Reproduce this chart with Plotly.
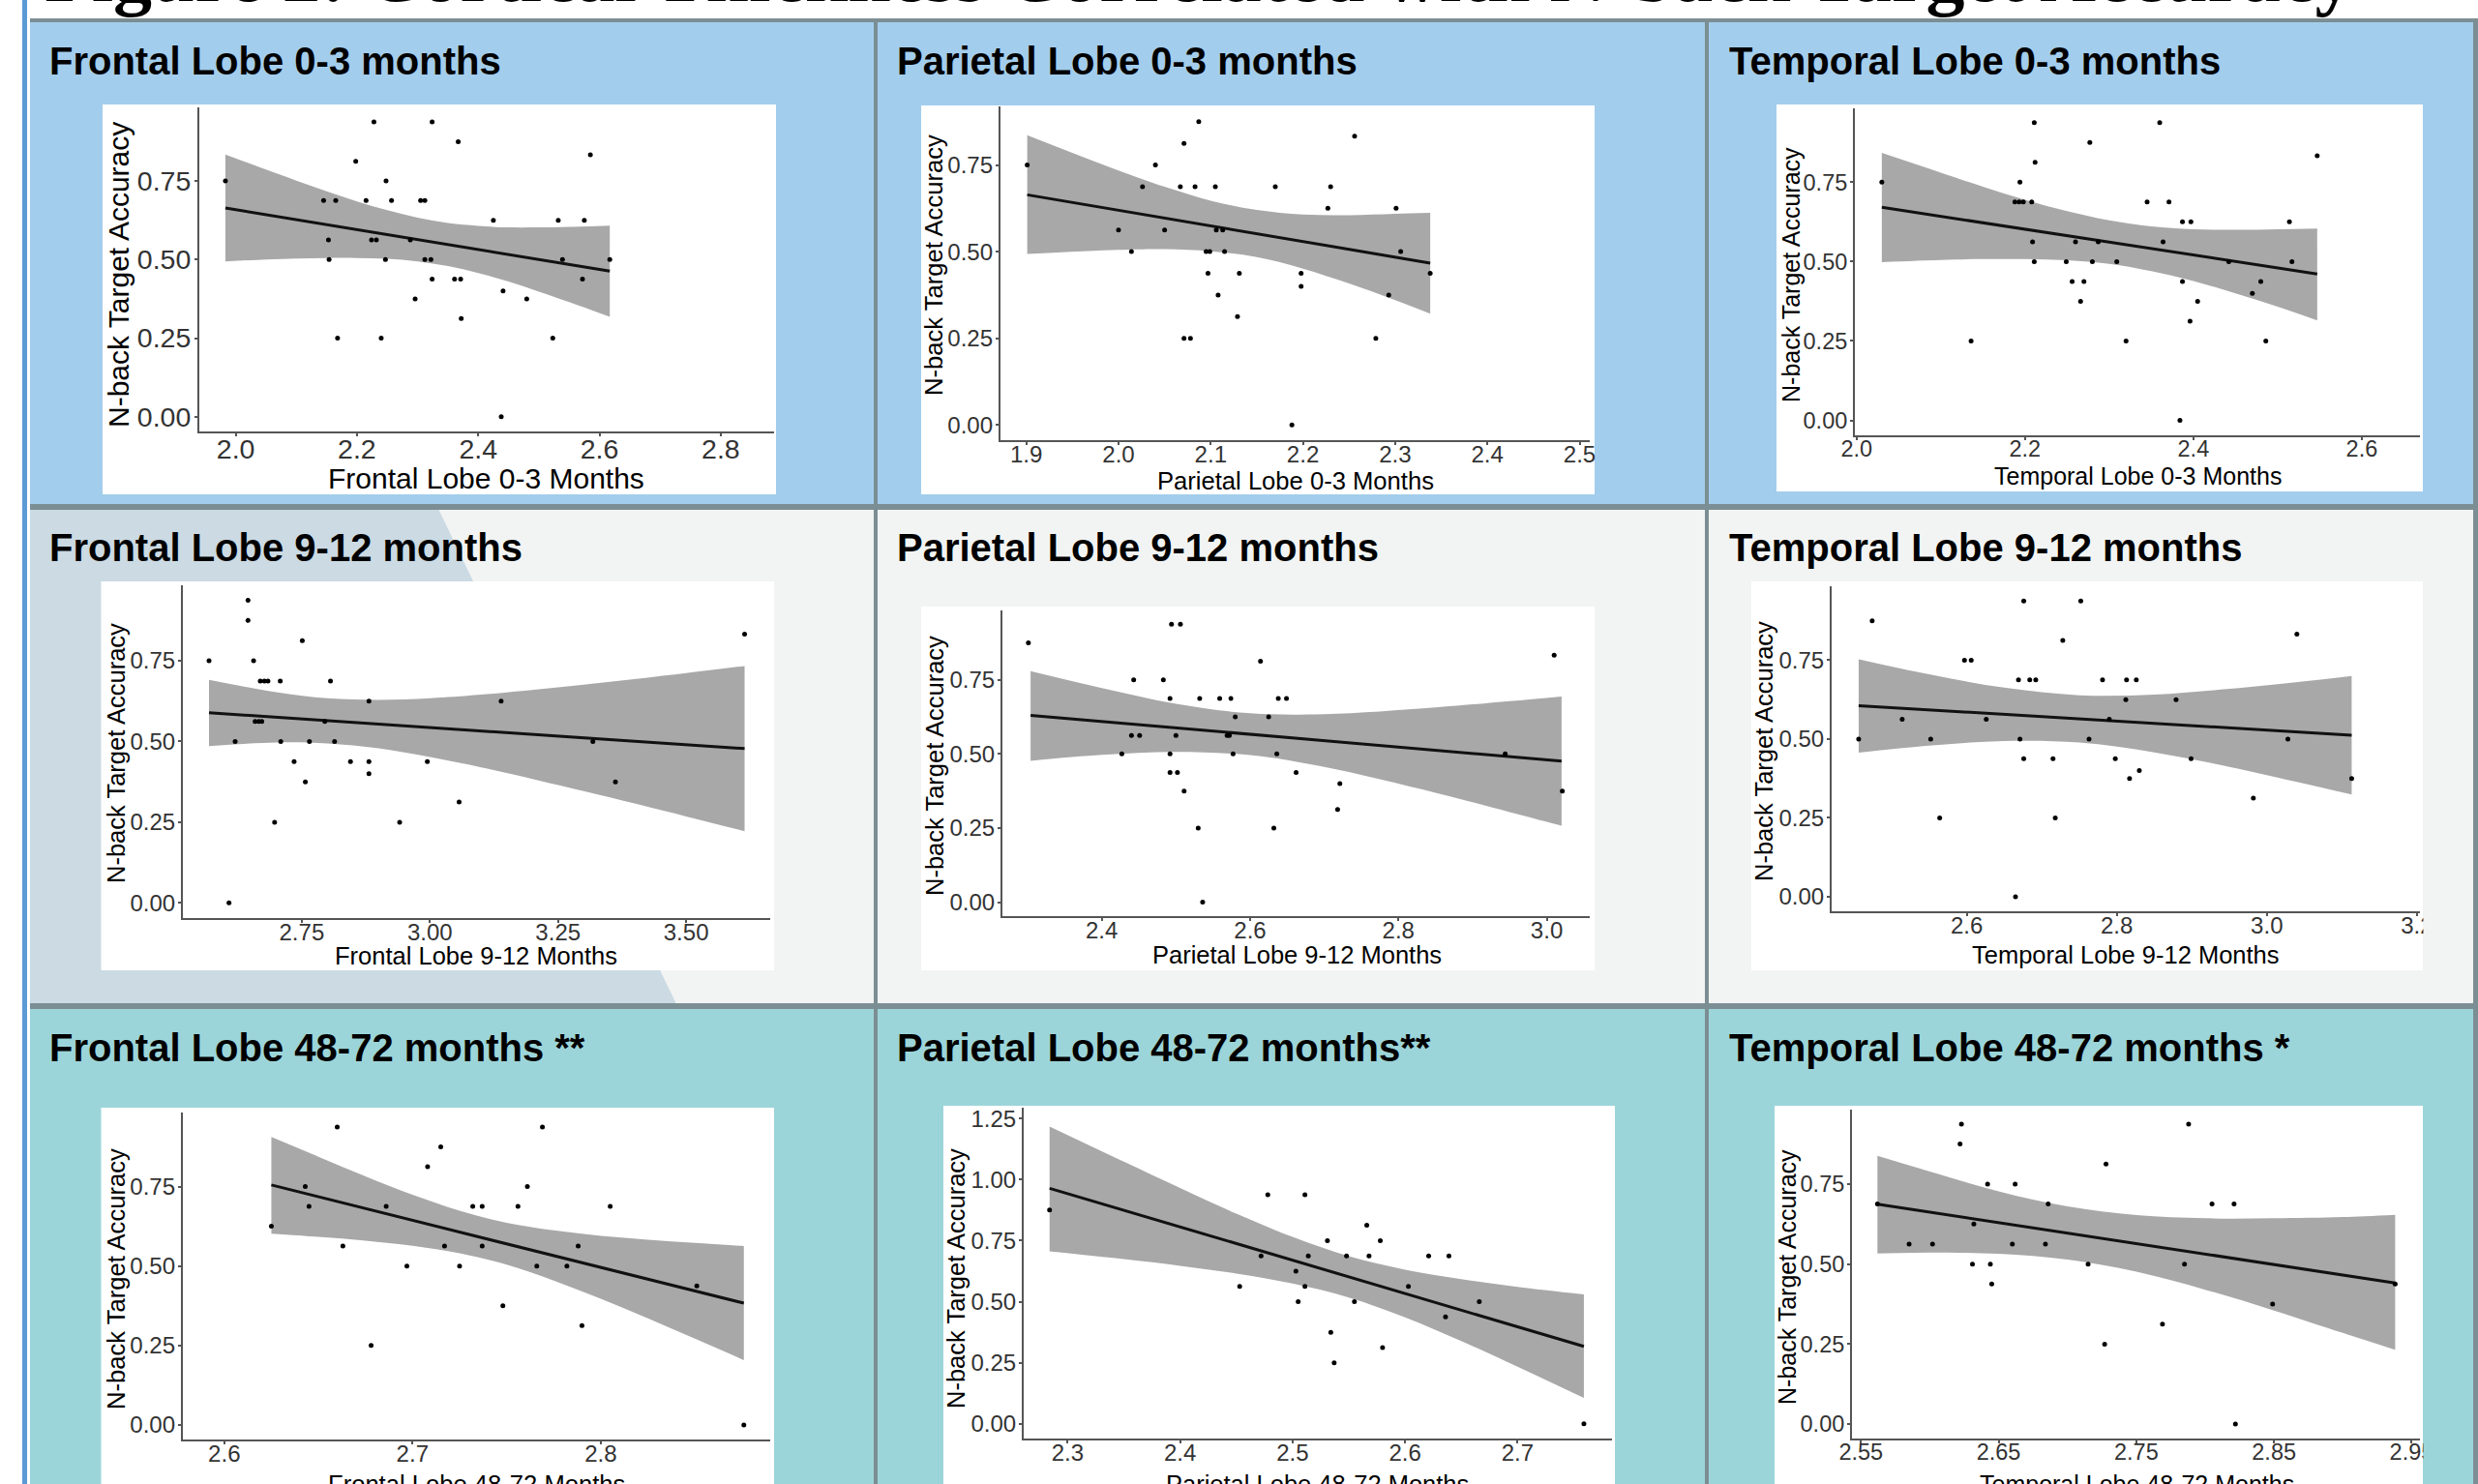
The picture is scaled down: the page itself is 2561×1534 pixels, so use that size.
import plotly.graph_objects as go

W, H = 2561, 1534

FIG_TITLE = "Figure 2: Cortical Thickness Correlated with N-back Target Accuracy"
Y_TITLE = "N-back Target Accuracy"

PANEL_TITLES = [
    "Frontal Lobe 0-3 months", "Parietal Lobe 0-3 months", "Temporal Lobe 0-3 months",
    "Frontal Lobe 9-12 months", "Parietal Lobe 9-12 months", "Temporal Lobe 9-12 months",
    "Frontal Lobe 48-72 months **", "Parietal Lobe 48-72 months**", "Temporal Lobe 48-72 months *",
]
X_TITLES = [
    "Frontal Lobe 0-3 Months", "Parietal Lobe 0-3 Months", "Temporal Lobe 0-3 Months",
    "Frontal Lobe 9-12 Months", "Parietal Lobe 9-12 Months", "Temporal Lobe 9-12 Months",
    "Frontal Lobe 48-72 Months", "Parietal Lobe 48-72 Months", "Temporal Lobe 48-72 Months",
]

Y_TICKS = [0.0, 0.25, 0.5, 0.75]
Y_TICK_LABELS = ["0.00", "0.25", "0.50", "0.75"]
Y_TICKS_P8 = [0.0, 0.25, 0.5, 0.75, 1.0, 1.25]
Y_TICK_LABELS_P8 = ["0.00", "0.25", "0.50", "0.75", "1.00", "1.25"]

X_TICKS = [
    [2.0, 2.2, 2.4, 2.6, 2.8],
    [1.9, 2.0, 2.1, 2.2, 2.3, 2.4, 2.5],
    [2.0, 2.2, 2.4, 2.6],
    [2.75, 3.0, 3.25, 3.5],
    [2.4, 2.6, 2.8, 3.0],
    [2.6, 2.8, 3.0, 3.2],
    [2.6, 2.7, 2.8],
    [2.3, 2.4, 2.5, 2.6, 2.7],
    [2.55, 2.65, 2.75, 2.85, 2.95],
]
X_TICK_LABELS = [
    ["2.0", "2.2", "2.4", "2.6", "2.8"],
    ["1.9", "2.0", "2.1", "2.2", "2.3", "2.4", "2.5"],
    ["2.0", "2.2", "2.4", "2.6"],
    ["2.75", "3.00", "3.25", "3.50"],
    ["2.4", "2.6", "2.8", "3.0"],
    ["2.6", "2.8", "3.0", "3.2"],
    ["2.6", "2.7", "2.8"],
    ["2.3", "2.4", "2.5", "2.6", "2.7"],
    ["2.55", "2.65", "2.75", "2.85", "2.95"],
]

# ---------------- Frontal 0-3 ----------------
frontal_0_3_x = [1.983, 2.228, 2.324, 2.367, 2.198, 2.585, 2.248, 2.145, 2.165, 2.215, 2.257, 2.305, 2.312,
                 2.425, 2.532, 2.575, 2.153, 2.224, 2.232, 2.288, 2.154, 2.247, 2.312, 2.322, 2.539, 2.617,
                 2.324, 2.361, 2.371, 2.572, 2.441, 2.296, 2.480, 2.372, 2.168, 2.240, 2.523, 2.438]
frontal_0_3_y = [0.75, 0.9375, 0.9375, 0.875, 0.8125, 0.833, 0.75, 0.6875, 0.6875, 0.6875, 0.6875, 0.6875, 0.6875,
                 0.625, 0.625, 0.625, 0.5625, 0.5625, 0.5625, 0.5625, 0.5, 0.5, 0.5, 0.5, 0.5, 0.5,
                 0.4375, 0.4375, 0.4375, 0.4375, 0.4, 0.375, 0.375, 0.3125, 0.25, 0.25, 0.25, 0.0]
frontal_0_3_fit_x = [1.983, 2.617]
frontal_0_3_fit_y = [0.664, 0.463]
frontal_0_3_band_x = [1.983, 2.05, 2.1, 2.15, 2.2, 2.25, 2.3, 2.35, 2.4, 2.45, 2.5, 2.55, 2.617]
frontal_0_3_band_hi = [0.834, 0.786, 0.751, 0.717, 0.685, 0.657, 0.633, 0.616, 0.607, 0.602, 0.602, 0.604, 0.608]
frontal_0_3_band_lo = [0.494, 0.500, 0.503, 0.505, 0.505, 0.502, 0.494, 0.479, 0.457, 0.430, 0.398, 0.365, 0.318]

# ---------------- Parietal 0-3 ----------------
parietal_0_3_x = [1.901, 2.087, 2.071, 2.256, 2.040, 2.026, 2.067, 2.083, 2.105, 2.170, 2.230, 2.227, 2.301,
                  2.000, 2.050, 2.106, 2.113, 2.014, 2.095, 2.099, 2.115, 2.306, 2.097, 2.131, 2.198, 2.338,
                  2.198, 2.108, 2.293, 2.129, 2.071, 2.078, 2.279, 2.188]
parietal_0_3_y = [0.75, 0.875, 0.8125, 0.833, 0.75, 0.6875, 0.6875, 0.6875, 0.6875, 0.6875, 0.6875, 0.625, 0.625,
                  0.5625, 0.5625, 0.5625, 0.5625, 0.5, 0.5, 0.5, 0.5, 0.5, 0.4375, 0.4375, 0.4375, 0.4375,
                  0.4, 0.375, 0.375, 0.3125, 0.25, 0.25, 0.25, 0.0]
parietal_0_3_fit_x = [1.901, 2.338]
parietal_0_3_fit_y = [0.664, 0.467]
parietal_0_3_band_x = [1.901, 2.0, 2.05, 2.1, 2.15, 2.2, 2.25, 2.3, 2.338]
parietal_0_3_band_hi = [0.836, 0.734, 0.687, 0.647, 0.620, 0.607, 0.605, 0.609, 0.612]
parietal_0_3_band_lo = [0.493, 0.505, 0.507, 0.501, 0.484, 0.451, 0.408, 0.360, 0.321]

# ---------------- Temporal 0-3 ----------------
temporal_0_3_x = [2.030, 2.211, 2.360, 2.277, 2.212, 2.547, 2.194, 2.188, 2.193, 2.198, 2.208, 2.345, 2.371,
                  2.387, 2.397, 2.514, 2.209, 2.260, 2.287, 2.364, 2.211, 2.249, 2.280, 2.309, 2.442, 2.517,
                  2.256, 2.270, 2.387, 2.480, 2.470, 2.266, 2.405, 2.396, 2.136, 2.320, 2.486, 2.384]
temporal_0_3_y = [0.75, 0.9375, 0.9375, 0.875, 0.8125, 0.833, 0.75, 0.6875, 0.6875, 0.6875, 0.6875, 0.6875, 0.6875,
                  0.625, 0.625, 0.625, 0.5625, 0.5625, 0.5625, 0.5625, 0.5, 0.5, 0.5, 0.5, 0.5, 0.5,
                  0.4375, 0.4375, 0.4375, 0.4375, 0.4, 0.375, 0.375, 0.3125, 0.25, 0.25, 0.25, 0.0]
temporal_0_3_fit_x = [2.030, 2.547]
temporal_0_3_fit_y = [0.671, 0.461]
temporal_0_3_band_x = [2.030, 2.1, 2.15, 2.2, 2.25, 2.3, 2.35, 2.4, 2.45, 2.5, 2.547]
temporal_0_3_band_hi = [0.842, 0.780, 0.736, 0.695, 0.659, 0.630, 0.611, 0.602, 0.600, 0.602, 0.604]
temporal_0_3_band_lo = [0.498, 0.505, 0.508, 0.508, 0.504, 0.493, 0.470, 0.439, 0.400, 0.358, 0.315]

# ---------------- Frontal 9-12 ----------------
frontal_9_12_x = [2.569, 2.645, 2.645, 2.751, 3.614, 2.656, 2.669, 2.677, 2.684, 2.708, 2.806, 2.881, 3.139,
                  2.659, 2.666, 2.672, 2.795, 2.620, 2.709, 2.765, 2.814, 3.318, 2.735, 2.845, 2.881, 2.995,
                  2.881, 2.757, 3.362, 3.057, 2.697, 2.941, 2.608]
frontal_9_12_y = [0.75, 0.9375, 0.875, 0.8125, 0.833, 0.75, 0.6875, 0.6875, 0.6875, 0.6875, 0.6875, 0.625, 0.625,
                  0.5625, 0.5625, 0.5625, 0.5625, 0.5, 0.5, 0.5, 0.5, 0.5, 0.4375, 0.4375, 0.4375, 0.4375,
                  0.4, 0.375, 0.375, 0.3125, 0.25, 0.25, 0.0]
frontal_9_12_fit_x = [2.569, 3.614]
frontal_9_12_fit_y = [0.589, 0.478]
frontal_9_12_band_x = [2.569, 2.7, 2.8, 2.9, 3.0, 3.1, 3.3, 3.5, 3.614]
frontal_9_12_band_hi = [0.691, 0.653, 0.634, 0.629, 0.634, 0.645, 0.676, 0.712, 0.734]
frontal_9_12_band_lo = [0.486, 0.497, 0.494, 0.479, 0.452, 0.420, 0.346, 0.268, 0.222]

# ---------------- Parietal 9-12 ----------------
parietal_9_12_x = [2.301, 2.494, 2.506, 2.614, 3.010, 2.443, 2.483, 2.492, 2.532, 2.559, 2.574, 2.638, 2.649,
                   2.580, 2.625, 2.440, 2.451, 2.500, 2.569, 2.572, 2.427, 2.492, 2.577, 2.636, 2.944,
                   2.492, 2.502, 2.662, 2.721, 2.511, 3.021, 2.718, 2.530, 2.632, 2.536]
parietal_9_12_y = [0.875, 0.9375, 0.9375, 0.8125, 0.833, 0.75, 0.75, 0.6875, 0.6875, 0.6875, 0.6875, 0.6875, 0.6875,
                   0.625, 0.625, 0.5625, 0.5625, 0.5625, 0.5625, 0.5625, 0.5, 0.5, 0.5, 0.5, 0.5,
                   0.4375, 0.4375, 0.4375, 0.4, 0.375, 0.375, 0.3125, 0.25, 0.25, 0.0]
parietal_9_12_fit_x = [2.304, 3.020]
parietal_9_12_fit_y = [0.630, 0.476]
parietal_9_12_band_x = [2.304, 2.4, 2.5, 2.6, 2.7, 2.85, 2.95, 3.020]
parietal_9_12_band_hi = [0.779, 0.722, 0.669, 0.637, 0.634, 0.657, 0.678, 0.694]
parietal_9_12_band_lo = [0.477, 0.497, 0.507, 0.496, 0.456, 0.369, 0.304, 0.258]

# ---------------- Temporal 9-12 ----------------
temporal_9_12_x = [2.456, 2.474, 2.676, 2.752, 2.728, 3.040, 2.597, 2.606, 2.669, 2.684, 2.692, 2.781, 2.813, 2.826,
                   2.812, 2.879, 2.514, 2.626, 2.790, 2.552, 2.671, 2.763, 3.028, 2.676, 2.715, 2.798, 2.899,
                   2.830, 2.817, 3.113, 2.982, 2.564, 2.718, 2.665]
temporal_9_12_y = [0.5, 0.875, 0.9375, 0.9375, 0.8125, 0.833, 0.75, 0.75, 0.6875, 0.6875, 0.6875, 0.6875, 0.6875, 0.6875,
                   0.625, 0.625, 0.5625, 0.5625, 0.5625, 0.5, 0.5, 0.5, 0.5, 0.4375, 0.4375, 0.4375, 0.4375,
                   0.4, 0.375, 0.375, 0.3125, 0.25, 0.25, 0.0]
temporal_9_12_fit_x = [2.456, 3.113]
temporal_9_12_fit_y = [0.606, 0.512]
temporal_9_12_band_x = [2.456, 2.55, 2.65, 2.75, 2.85, 2.95, 3.05, 3.113]
temporal_9_12_band_hi = [0.753, 0.705, 0.663, 0.639, 0.641, 0.659, 0.683, 0.700]
temporal_9_12_band_lo = [0.457, 0.479, 0.494, 0.489, 0.458, 0.412, 0.359, 0.324]

# ---------------- Frontal 48-72 ----------------
frontal_48_72_x = [2.660, 2.769, 2.715, 2.708, 2.643, 2.761, 2.645, 2.686, 2.732, 2.737, 2.756, 2.805, 2.625,
                   2.663, 2.717, 2.737, 2.788, 2.697, 2.725, 2.766, 2.782, 2.851, 2.748, 2.790, 2.678, 2.876]
frontal_48_72_y = [0.9375, 0.9375, 0.875, 0.8125, 0.75, 0.75, 0.6875, 0.6875, 0.6875, 0.6875, 0.6875, 0.6875, 0.625,
                   0.5625, 0.5625, 0.5625, 0.5625, 0.5, 0.5, 0.5, 0.5, 0.4375, 0.375, 0.3125, 0.25, 0.0]
frontal_48_72_fit_x = [2.625, 2.876]
frontal_48_72_fit_y = [0.755, 0.383]
frontal_48_72_band_x = [2.625, 2.65, 2.675, 2.70, 2.725, 2.75, 2.775, 2.80, 2.825, 2.85, 2.876]
frontal_48_72_band_hi = [0.906, 0.844, 0.782, 0.724, 0.674, 0.636, 0.612, 0.595, 0.583, 0.573, 0.563]
frontal_48_72_band_lo = [0.602, 0.592, 0.580, 0.564, 0.540, 0.504, 0.454, 0.397, 0.335, 0.271, 0.204]

# ---------------- Parietal 48-72 ----------------
parietal_48_72_x = [2.284, 2.478, 2.511, 2.566, 2.531, 2.578, 2.472, 2.514, 2.548, 2.568, 2.621, 2.639,
                    2.503, 2.453, 2.511, 2.603, 2.505, 2.555, 2.666, 2.636, 2.534, 2.580, 2.537, 2.759]
parietal_48_72_y = [0.875, 0.9375, 0.9375, 0.8125, 0.75, 0.75, 0.6875, 0.6875, 0.6875, 0.6875, 0.6875, 0.6875,
                    0.625, 0.5625, 0.5625, 0.5625, 0.5, 0.5, 0.5, 0.4375, 0.375, 0.3125, 0.25, 0.0]
parietal_48_72_fit_x = [2.284, 2.759]
parietal_48_72_fit_y = [0.964, 0.317]
parietal_48_72_band_x = [2.284, 2.35, 2.40, 2.45, 2.50, 2.55, 2.60, 2.65, 2.70, 2.759]
parietal_48_72_band_hi = [1.217, 1.073, 0.965, 0.860, 0.765, 0.686, 0.631, 0.592, 0.561, 0.530]
parietal_48_72_band_lo = [0.706, 0.674, 0.647, 0.615, 0.574, 0.517, 0.436, 0.339, 0.234, 0.106]

# ---------------- Temporal 48-72 ----------------
temporal_48_72_x = [2.623, 2.788, 2.622, 2.728, 2.642, 2.662, 2.562, 2.686, 2.805, 2.821, 2.632, 2.585, 2.602,
                    2.660, 2.684, 2.631, 2.644, 2.715, 2.785, 2.645, 2.938, 2.849, 2.769, 2.727, 2.822]
temporal_48_72_y = [0.9375, 0.9375, 0.875, 0.8125, 0.75, 0.75, 0.6875, 0.6875, 0.6875, 0.6875, 0.625, 0.5625, 0.5625,
                    0.5625, 0.5625, 0.5, 0.5, 0.5, 0.5, 0.4375, 0.4375, 0.375, 0.3125, 0.25, 0.0]
temporal_48_72_fit_x = [2.562, 2.938]
temporal_48_72_fit_y = [0.687, 0.441]
temporal_48_72_band_x = [2.562, 2.6, 2.65, 2.7, 2.75, 2.8, 2.85, 2.9, 2.938]
temporal_48_72_band_hi = [0.838, 0.789, 0.727, 0.680, 0.653, 0.643, 0.643, 0.647, 0.654]
temporal_48_72_band_lo = [0.533, 0.536, 0.532, 0.514, 0.476, 0.420, 0.355, 0.285, 0.232]

SERIES = [
    (frontal_0_3_x, frontal_0_3_y, frontal_0_3_fit_x, frontal_0_3_fit_y, frontal_0_3_band_x, frontal_0_3_band_hi, frontal_0_3_band_lo),
    (parietal_0_3_x, parietal_0_3_y, parietal_0_3_fit_x, parietal_0_3_fit_y, parietal_0_3_band_x, parietal_0_3_band_hi, parietal_0_3_band_lo),
    (temporal_0_3_x, temporal_0_3_y, temporal_0_3_fit_x, temporal_0_3_fit_y, temporal_0_3_band_x, temporal_0_3_band_hi, temporal_0_3_band_lo),
    (frontal_9_12_x, frontal_9_12_y, frontal_9_12_fit_x, frontal_9_12_fit_y, frontal_9_12_band_x, frontal_9_12_band_hi, frontal_9_12_band_lo),
    (parietal_9_12_x, parietal_9_12_y, parietal_9_12_fit_x, parietal_9_12_fit_y, parietal_9_12_band_x, parietal_9_12_band_hi, parietal_9_12_band_lo),
    (temporal_9_12_x, temporal_9_12_y, temporal_9_12_fit_x, temporal_9_12_fit_y, temporal_9_12_band_x, temporal_9_12_band_hi, temporal_9_12_band_lo),
    (frontal_48_72_x, frontal_48_72_y, frontal_48_72_fit_x, frontal_48_72_fit_y, frontal_48_72_band_x, frontal_48_72_band_hi, frontal_48_72_band_lo),
    (parietal_48_72_x, parietal_48_72_y, parietal_48_72_fit_x, parietal_48_72_fit_y, parietal_48_72_band_x, parietal_48_72_band_hi, parietal_48_72_band_lo),
    (temporal_48_72_x, temporal_48_72_y, temporal_48_72_fit_x, temporal_48_72_fit_y, temporal_48_72_band_x, temporal_48_72_band_hi, temporal_48_72_band_lo),
]

# ---------------- layout geometry (pixels) ----------------
PLOT_BOX = [
    (206, 800, 111, 446), (1034, 1643, 110, 455), (1917, 2501, 111.5, 450),
    (189, 796, 605, 949), (1036, 1643, 631, 947), (1893, 2501, 605.5, 942),
    (189, 796, 1150, 1488), (1058, 1666, 1145, 1487), (1914, 2501, 1147, 1487),
]
X_RANGES = [(1.94, 2.888), (1.872, 2.511), (1.998, 2.669), (2.518, 3.664), (2.266, 3.058),
            (2.42, 3.204), (2.578, 2.89), (2.261, 2.784), (2.5435, 2.956)]
Y_RANGES = [(-0.047, 0.984), (-0.044, 0.919), (-0.047, 0.984), (-0.047, 0.984), (-0.047, 0.984),
            (-0.046, 0.986), (-0.046, 0.983), (-0.06, 1.294), (-0.045, 0.9825)]
FONT_SIZES = [30, 25.6, 25, 25.5, 25.5, 25.5, 25.6, 25.5, 25]
WHITE_BOX = [
    (106, 802, 108, 511), (952, 1648, 109, 511), (1836, 2504, 108, 508),
    (104.5, 800, 601, 1003), (952, 1648, 627, 1003), (1810, 2504, 601, 1003),
    (104.5, 800, 1145, H), (975, 1669, 1143, H), (1834, 2504, 1143, H),
]
X_TITLE_POS = [(503, 495), (1339, 497), (2209, 492), (492, 988), (1340, 987), (2197, 987),
               (492, 1534), (1361, 1534), (2208, 1534)]
Y_TITLE_POS = [(123, 284), (965, 274), (1851, 284), (120, 779), (966, 792), (1823, 777),
               (120, 1322), (988, 1322), (1847, 1320)]
TITLE_X = [49, 925, 1785]
TITLE_Y = [63, 566, 1083]

ROW1 = "#a3cdec"
ROW2 = "#f2f4f3"
ROW2_DIAG = "#cbdae3"
ROW3 = "#9cd5d9"
BORDER = "#7b8e93"
BLUE = "#5b9bd5"
BAND = "#a8a8a8"
AXIS_COL = "#555555"
TICK_COL = "#333333"
FONT = "Liberation Sans, Arial, sans-serif"


def fx(p):
    return p / W


def fy(p):
    return 1 - p / H


shapes = []


def rect(x0, y0, x1, y1, color, layer="below"):
    shapes.append(dict(type="rect", xref="paper", yref="paper",
                       x0=fx(x0), x1=fx(x1), y0=fy(y1), y1=fy(y0),
                       fillcolor=color, line=dict(width=0), layer=layer))


# backgrounds
rect(31, 21, W, 524, ROW1)
rect(31, 524, W, 1040, ROW2)
shapes.append(dict(type="path", xref="paper", yref="paper", layer="below",
                   path=f"M {fx(31)},{fy(526)} L {fx(453)},{fy(526)} L {fx(700)},{fy(1040)} L {fx(31)},{fy(1040)} Z",
                   fillcolor=ROW2_DIAG, line=dict(width=0)))
rect(31, 1040, W, H, ROW3)
rect(23, 0, 28, H, BLUE)
# borders
rect(31, 19, W, 23, BORDER)
rect(31, 521, W, 527, BORDER)
rect(31, 1037, W, 1043, BORDER)
rect(903, 21, 907, H, BORDER)
rect(1762, 21, 1766, H, BORDER)
rect(2556, 21, 2561, H, BORDER)
# white boxes for each chart image
for (x0, x1, y0, y1) in WHITE_BOX:
    rect(x0, y0, x1, y1, "#ffffff")
# clip tick labels that overflow the white boxes (as in the source images)
rect(1648.5, 452, 1690, 492, ROW1, layer="above")
rect(2504.5, 943, 2550, 985, ROW2, layer="above")
rect(2504.5, 1488, 2550, 1530, ROW3, layer="above")

fig = go.Figure()
layout = dict()
annotations = []

for i in range(9):
    px_, py_, fxs, fys, bx, bhi, blo = SERIES[i]
    xn = "x" if i == 0 else f"x{i+1}"
    yn = "y" if i == 0 else f"y{i+1}"
    fs = FONT_SIZES[i]
    tfs = fs - 1.5
    # confidence band
    fig.add_trace(go.Scatter(x=bx, y=blo, mode="lines", line=dict(width=0, shape="spline", color=BAND),
                             xaxis=xn, yaxis=yn, showlegend=False, hoverinfo="skip"))
    fig.add_trace(go.Scatter(x=bx, y=bhi, mode="lines", line=dict(width=0, shape="spline", color=BAND),
                             fill="tonexty", fillcolor=BAND,
                             xaxis=xn, yaxis=yn, showlegend=False, hoverinfo="skip"))
    # fit line
    fig.add_trace(go.Scatter(x=fxs, y=fys, mode="lines", line=dict(width=3, color="#111111"),
                             xaxis=xn, yaxis=yn, showlegend=False))
    # points
    fig.add_trace(go.Scatter(x=px_, y=py_, mode="markers", marker=dict(size=5, color="#000000"),
                             xaxis=xn, yaxis=yn, showlegend=False))

    x0, x1, yt, yb = PLOT_BOX[i]
    common = dict(showgrid=False, zeroline=False, showline=True, linecolor=AXIS_COL, linewidth=2,
                  ticks="outside", ticklen=3, tickwidth=1.5, tickcolor=AXIS_COL, fixedrange=True,
                  automargin=False, tickfont=dict(family=FONT, size=tfs, color=TICK_COL))
    xa = dict(domain=[fx(x0), fx(x1)], range=list(X_RANGES[i]), anchor=yn, ticklabelstandoff=-11,
              tickmode="array", tickvals=X_TICKS[i], ticktext=X_TICK_LABELS[i], **common)
    yv = Y_TICKS_P8 if i == 7 else Y_TICKS
    yl = Y_TICK_LABELS_P8 if i == 7 else Y_TICK_LABELS
    ya = dict(domain=[fy(yb), fy(yt)], range=list(Y_RANGES[i]), anchor=xn, ticklabelstandoff=-2,
              tickmode="array", tickvals=yv, ticktext=yl, **common)
    layout["xaxis" if i == 0 else f"xaxis{i+1}"] = xa
    layout["yaxis" if i == 0 else f"yaxis{i+1}"] = ya

    # panel title
    annotations.append(dict(text=f"<b>{PANEL_TITLES[i]}</b>", x=fx(TITLE_X[i % 3]), y=fy(TITLE_Y[i // 3]),
                            xref="paper", yref="paper", xanchor="left", yanchor="middle", showarrow=False,
                            font=dict(family=FONT, size=40, color="#000000")))
    # axis titles
    tx, ty = X_TITLE_POS[i]
    annotations.append(dict(text=X_TITLES[i], x=fx(tx), y=fy(ty), xref="paper", yref="paper",
                            xanchor="center", yanchor="middle", showarrow=False,
                            font=dict(family=FONT, size=fs, color="#000000")))
    tx, ty = Y_TITLE_POS[i]
    annotations.append(dict(text=Y_TITLE, x=fx(tx), y=fy(ty), xref="paper", yref="paper",
                            xanchor="center", yanchor="middle", showarrow=False, textangle=-90,
                            font=dict(family=FONT, size=fs, color="#000000")))

# figure title (mostly cut off at the top edge of the picture)
annotations.append(dict(text=f"<b>{FIG_TITLE}</b>", x=fx(44), y=fy(20), xref="paper", yref="paper",
                        xanchor="left", yanchor="bottom", showarrow=False,
                        font=dict(family="Liberation Serif, Times New Roman, serif", size=80, color="#000000")))

fig.update_layout(
    width=W, height=H, margin=dict(l=0, r=0, t=0, b=0, pad=0, autoexpand=False),
    paper_bgcolor="#ffffff", plot_bgcolor="rgba(0,0,0,0)",
    showlegend=False, shapes=shapes, annotations=annotations,
    **layout,
)

fig.write_html("out.html")
